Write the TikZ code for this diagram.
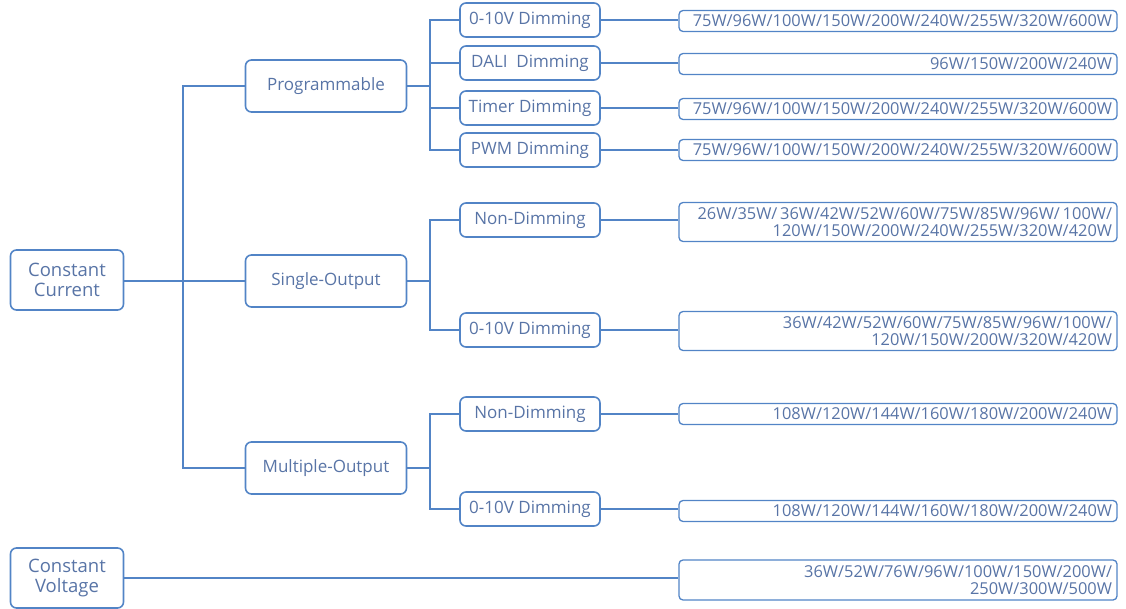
\documentclass[tikz,border=0pt]{standalone}
\usepackage{fontspec}
\setmainfont{Open Sans}
\definecolor{lineblue}{RGB}{82,132,198}
\definecolor{textblue}{RGB}{88,116,166}
\begin{document}
\begin{tikzpicture}[x=1pt,y=-1pt,
	every node/.style={text=textblue,font=\fontsize{17}{19}\selectfont},
	box/.style={draw=lineblue,line width=1.6pt,rounded corners=6pt,align=center,inner sep=0pt},
	topbox/.style={box,minimum width=113pt,minimum height=60pt,font=\fontsize{18.5}{20}\selectfont},
	midbox/.style={box,minimum width=161pt,minimum height=52pt},
	dimbox/.style={box,minimum width=140pt,minimum height=34pt},
	valbox/.style={box,line width=1.3pt,rounded corners=4pt,minimum width=438pt,minimum height=21pt,
		text width=428pt,align=right,font=\fontsize{16.4}{17.5}\selectfont},
	link/.style={draw=lineblue,line width=1.4pt}]
	\useasboundingbox (0,0) rectangle (1126,609);

	\node[topbox] (cc) at (67,280) {Constant\\Current};
	\node[topbox] (cv) at (67,578) {Constant\\Voltage};

	\node[midbox] (prog) at (326,86) {Programmable};
	\node[midbox] (single) at (326,281) {Single-Output};
	\node[midbox] (multi) at (326,468) {Multiple-Output};

	\node[dimbox] (p1) at (530,20) {0-10V Dimming};
	\node[dimbox] (p2) at (530,63) {DALI\ \ Dimming};
	\node[dimbox] (p3) at (530,108) {Timer Dimming};
	\node[dimbox] (p4) at (530,150) {PWM Dimming};
	\node[dimbox] (s1) at (530,220) {Non-Dimming};
	\node[dimbox] (s2) at (530,330) {0-10V Dimming};
	\node[dimbox] (m1) at (530,414) {Non-Dimming};
	\node[dimbox] (m2) at (530,509) {0-10V Dimming};

	\node[valbox] (vp1) at (898,21) {75W/96W/100W/150W/200W/240W/255W/320W/600W};
	\node[valbox] (vp2) at (898,64) {96W/150W/200W/240W};
	\node[valbox] (vp3) at (898,109) {75W/96W/100W/150W/200W/240W/255W/320W/600W};
	\node[valbox] (vp4) at (898,150) {75W/96W/100W/150W/200W/240W/255W/320W/600W};
	\node[valbox,minimum height=39pt] (vs1) at (898,222) {26W/35W/\,36W/42W/52W/60W/75W/85W/96W/\,100W/\\120W/150W/200W/240W/255W/320W/420W};
	\node[valbox,minimum height=39pt] (vs2) at (898,331) {36W/42W/52W/60W/75W/85W/96W/100W/\\120W/150W/200W/320W/420W};
	\node[valbox] (vm1) at (898,414) {108W/120W/144W/160W/180W/200W/240W};
	\node[valbox] (vm2) at (898,511) {108W/120W/144W/160W/180W/200W/240W};
	\node[valbox,minimum height=40pt] (vcv) at (898,580) {36W/52W/76W/96W/100W/150W/200W/\\250W/300W/500W};

	% trunk from constant current
	\coordinate (t0) at (183,281);
	\draw[link] (cc.east |- t0) -- (single);
	\draw[link] (t0) |- (prog);
	\draw[link] (t0) |- (multi);

	% branches
	\coordinate (bp) at (430,86);
	\coordinate (bs) at (430,281);
	\coordinate (bm) at (430,468);
	\draw[link] (prog) -- (bp);
	\draw[link] (single) -- (bs);
	\draw[link] (multi) -- (bm);
	\foreach \n in {p1,p2,p3,p4} \draw[link] (bp) |- (\n);
	\foreach \n in {s1,s2} \draw[link] (bs) |- (\n);
	\foreach \n in {m1,m2} \draw[link] (bm) |- (\n);

	\foreach \a/\b in {p1/vp1,p2/vp2,p3/vp3,p4/vp4,s1/vs1,s2/vs2,m1/vm1,m2/vm2}
		\draw[link] (\a) -- (\b.west |- \a);
	\draw[link] (cv) -- (vcv.west |- cv);
\end{tikzpicture}
\end{document}
